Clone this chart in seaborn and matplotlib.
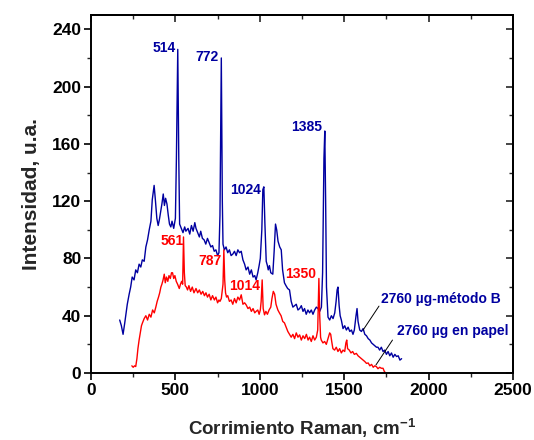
import matplotlib
matplotlib.use("Agg")
import matplotlib.pyplot as plt
import seaborn as sns
import pandas as pd
from matplotlib.ticker import MultipleLocator

sns.set_theme(style="white")
plt.rcParams['font.family'] = ['Liberation Sans', 'DejaVu Sans']
plt.rcParams['font.weight'] = 'bold'
plt.rcParams['mathtext.fontset'] = 'custom'
plt.rcParams['mathtext.bf'] = 'Liberation Sans:bold'
plt.rcParams['mathtext.rm'] = 'Liberation Sans:bold'
plt.rcParams['mathtext.default'] = 'bf'

# ---- data ----
blue_x = [170, 180, 190, 200, 215, 226, 235, 244, 255, 265, 275, 285, 295, 304, 315, 325, 335, 345, 355, 363,
          374, 382, 390, 398, 405, 412, 420, 428, 435, 442, 450, 458, 465, 473, 480, 490, 500, 506, 514, 520,
          525, 535, 545, 555, 562, 575, 585, 595, 605, 615, 622, 632, 642, 650, 660, 670, 680, 690, 700, 710,
          720, 730, 740, 750, 758, 764, 772, 778, 782, 790, 800, 810, 820, 830, 840, 850, 860, 870, 880, 890,
          900, 910, 919, 930, 940, 950, 960, 970, 978, 988, 996, 1003, 1012, 1018, 1024, 1030, 1038, 1045, 1050, 1057,
          1065, 1077, 1085, 1093, 1100, 1108, 1118, 1127, 1135, 1146, 1155, 1165, 1176, 1186, 1196, 1206, 1216, 1226, 1236, 1246,
          1256, 1265, 1275, 1285, 1295, 1305, 1315, 1325, 1335, 1345, 1355, 1365, 1372, 1380, 1385, 1390, 1395, 1404, 1414, 1424,
          1434, 1444, 1452, 1458, 1463, 1470, 1476, 1483, 1493, 1503, 1513, 1523, 1533, 1543, 1552, 1560, 1570, 1576, 1582, 1592,
          1602, 1612, 1622, 1632, 1642, 1652, 1662, 1672, 1681, 1691, 1700, 1710, 1720, 1730, 1740, 1750, 1760, 1770, 1780, 1790,
          1800, 1810, 1820, 1830, 1840]
blue_y = [37, 33, 27, 35, 48, 55, 60, 67, 65, 72, 70, 76, 74, 79, 78, 88, 93, 100, 106, 121,
          131, 120, 108, 103, 107, 112, 118, 125, 117, 122, 118, 110, 104, 102, 106, 101, 108, 150, 226, 150,
          104, 101, 98, 102, 99, 101, 97, 103, 99, 105, 101, 98, 95, 99, 94, 93, 90, 94, 91, 88,
          89, 85, 86, 82, 84, 110, 220, 120, 90, 86, 88, 84, 86, 82, 83, 85, 82, 86, 84, 85,
          79, 76, 72, 74, 69, 72, 67, 68, 65, 70, 75, 80, 100, 128, 130, 105, 78, 75, 72, 75,
          70, 69, 85, 104, 100, 92, 88, 86, 72, 63, 61, 59, 58, 50, 46, 47, 48, 44, 45, 47,
          43, 45, 41, 44, 42, 44, 41, 44, 46, 45, 43, 46, 70, 150, 169, 120, 60, 39, 37, 40,
          38, 42, 50, 58, 60, 47, 40, 37, 31, 33, 30, 32, 29, 30, 27, 30, 40, 45, 36, 30,
          29, 31, 27, 26, 24, 23, 21, 20, 19, 18, 18, 16, 18, 15, 16, 13, 15, 12, 14, 11,
          13, 11.5, 12, 9, 10]

red_x = [242, 250, 258, 265, 272, 278, 285, 292, 299, 305, 315, 325, 335, 345, 355, 365, 375, 384, 392, 400,
         407, 414, 420, 427, 434, 440, 447, 455, 462, 470, 477, 483, 490, 497, 505, 513, 523, 530, 537, 543,
         548, 553, 558, 565, 572, 580, 590, 600, 610, 622, 632, 642, 652, 662, 672, 681, 690, 700, 710, 720,
         731, 740, 750, 758, 764, 772, 782, 787, 792, 797, 803, 810, 820, 830, 840, 850, 860, 870, 880, 890,
         900, 910, 919, 930, 940, 950, 960, 970, 978, 988, 996, 1003, 1008, 1014, 1020, 1028, 1036, 1045, 1055, 1065,
         1072, 1080, 1088, 1096, 1107, 1116, 1126, 1136, 1146, 1156, 1166, 1176, 1186, 1196, 1206, 1216, 1226, 1236, 1246, 1256,
         1266, 1276, 1286, 1295, 1305, 1315, 1325, 1335, 1343, 1350, 1355, 1360, 1364, 1374, 1384, 1394, 1404, 1414, 1420, 1426,
         1433, 1443, 1453, 1463, 1473, 1483, 1493, 1503, 1510, 1515, 1520, 1530, 1540, 1550, 1560, 1572, 1582, 1592, 1602, 1612,
         1622, 1632, 1642, 1652, 1662, 1672, 1681, 1691, 1700, 1710, 1720, 1730, 1738, 1746]
red_y = [5, 4, 5, 4.5, 10, 17, 23, 28, 33, 35, 38, 40, 37, 41, 39, 44, 42, 46, 50, 53,
         56, 60, 62, 65, 69, 63, 67, 64, 68, 66, 70, 70, 66, 68, 64, 62, 59, 62, 64, 62,
         95, 70, 61, 60, 58, 61, 57, 60, 56, 59, 56, 58, 55, 57, 54, 56, 53, 55, 51, 54,
         51, 53, 49, 51, 50, 52, 62, 86, 65, 56, 53, 54, 50, 51, 48, 52, 49, 53, 51, 54.6,
         48, 49, 47.6, 45, 46, 43, 45, 42, 43, 44, 41, 44, 50, 65, 45, 40.6, 43, 41, 44, 46,
         52, 57, 55, 48, 44, 42, 40, 36, 35, 32, 29, 27, 25, 27, 24, 28, 25, 26.6, 23, 26,
         24, 27, 23, 25, 22, 26, 23, 25, 30, 66, 40, 25, 23, 21, 22, 20, 24, 28, 27, 22,
         17, 16, 18, 15, 17, 14, 16, 15, 21, 23, 17, 16, 14, 15, 13, 13.7, 12, 11, 10, 9,
         8, 6.7, 7, 5, 6, 4, 5, 4.4, 3, 4, 3.3, 3.3, 1, 0]

blue_peaks = [514, 772, 1024, 1385]
blue_peak_labels = ["514", "772", "1024", "1385"]
blue_label_y = [227, 221, 128, 172]
red_peaks = [561, 787, 1014, 1350]
red_peak_labels = ["561", "787", "1014", "1350"]
red_label_y = [92, 78, 61, 69]

series_labels = ["2760 \u00b5g-m\u00e9todo B", "2760 \u00b5g en papel"]

BLUE = "#0000A0"
RED = "#FF0000"

df_b = pd.DataFrame({"x": blue_x, "y": blue_y})
df_r = pd.DataFrame({"x": red_x, "y": red_y})

fig = plt.figure(figsize=(5.34, 4.4), dpi=100)
ax = fig.add_axes([0.1704, 0.1523, 0.9607 - 0.1704, 0.9659 - 0.1523])

sns.lineplot(data=df_b, x="x", y="y", ax=ax, color=BLUE, lw=1.0, estimator=None)
sns.lineplot(data=df_r, x="x", y="y", ax=ax, color=RED, lw=1.0, estimator=None)

ax.set_xlim(0, 2500)
ax.set_ylim(0, 250)
ax.xaxis.set_major_locator(MultipleLocator(500))
ax.xaxis.set_minor_locator(MultipleLocator(250))
ax.yaxis.set_major_locator(MultipleLocator(40))
ax.yaxis.set_minor_locator(MultipleLocator(20))
ax.tick_params(which='major', direction='out', length=5, width=1.2, labelsize=12.5, pad=2,
               left=True, bottom=True, colors='black')
ax.tick_params(which='minor', direction='out', length=3, width=1.0, left=True, bottom=True)
for lab in ax.get_xticklabels() + ax.get_yticklabels():
    lab.set_fontweight('bold')

# mirrored inward ticks on top / right
secx = ax.secondary_xaxis('top')
secx.xaxis.set_major_locator(MultipleLocator(500))
secx.xaxis.set_minor_locator(MultipleLocator(250))
secx.tick_params(which='major', direction='in', length=5, width=1.2, labeltop=False)
secx.tick_params(which='minor', direction='in', length=3, width=1.0)
secy = ax.secondary_yaxis('right')
secy.yaxis.set_major_locator(MultipleLocator(40))
secy.yaxis.set_minor_locator(MultipleLocator(20))
secy.tick_params(which='major', direction='in', length=5, width=1.2, labelright=False)
secy.tick_params(which='minor', direction='in', length=3, width=1.0)

for sp in list(ax.spines.values()):
    sp.set_color('black')
    sp.set_linewidth(1.4)
for s in (secx, secy):
    for sp in s.spines.values():
        sp.set_linewidth(1.4)
        sp.set_color('black')

ax.set_xlabel("")
ax.set_ylabel("Intensidad, u.a.", fontsize=15, fontweight='bold', labelpad=8)
fig.text(0.5 * (0.1704 + 0.9607), 5 / 440, r"Corrimiento Raman, cm$^{-1}$", ha='center', va='baseline',
         fontsize=13.5, fontweight='bold')

for px, lab, ly in zip(blue_peaks, blue_peak_labels, blue_label_y):
    ax.text(px - 14, ly, lab, color=BLUE, fontsize=10, fontweight='bold', ha='right', va='center')
for px, lab, ly in zip(red_peaks, red_peak_labels, red_label_y):
    ax.text(px - 14, ly, lab, color=RED, fontsize=10, fontweight='bold', ha='right', va='center')

# series labels with leader lines
ax.plot([1612, 1706], [30, 46.7], color='black', lw=0.7)
ax.text(1720, 51.6, series_labels[0], color=BLUE, fontsize=10, fontweight='bold', ha='left', va='center')
ax.plot([1688, 1786], [5.6, 23], color='black', lw=0.7)
ax.text(1810, 29, series_labels[1], color=BLUE, fontsize=10, fontweight='bold', ha='left', va='center')

fig.savefig("out.png", dpi=100)
